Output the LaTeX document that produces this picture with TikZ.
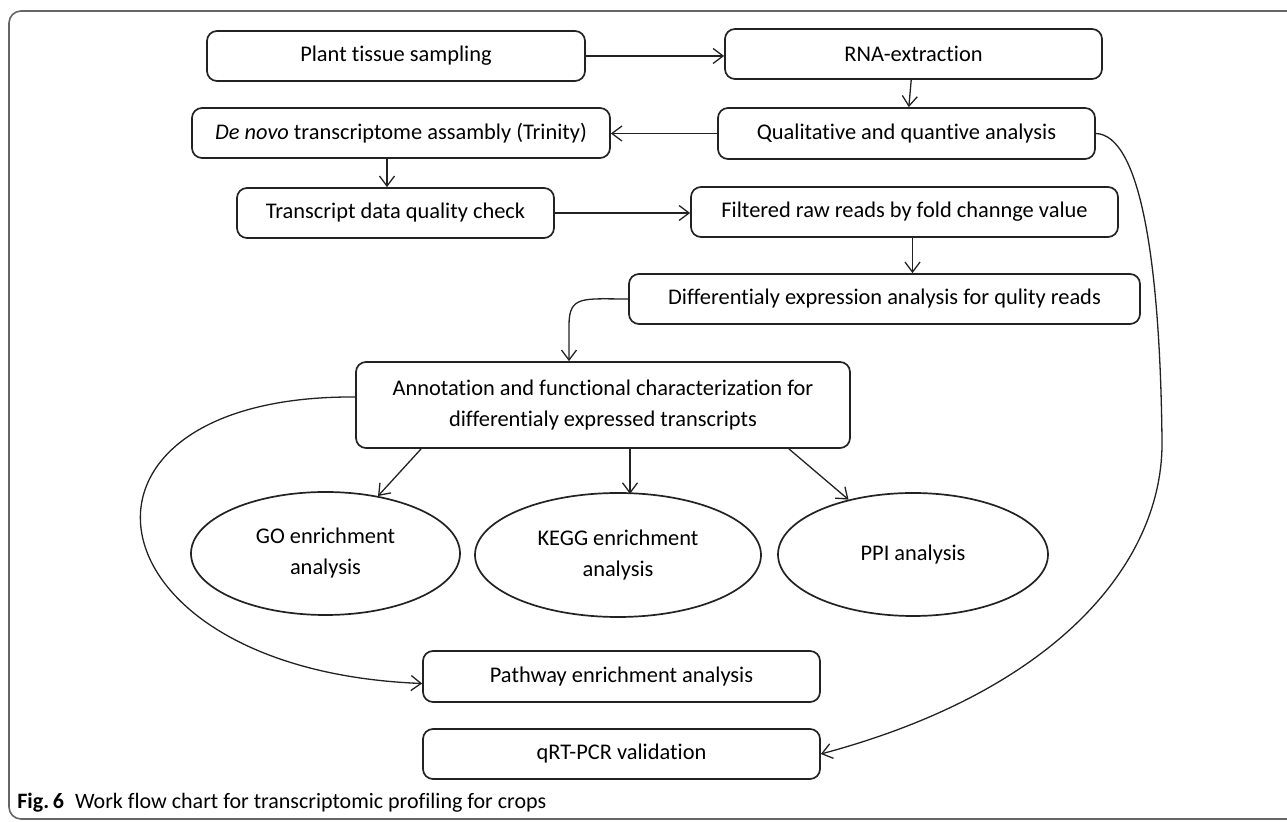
\documentclass[tikz,border=0pt]{standalone}
\usepackage{fontspec}
\setmainfont[Ligatures=NoCommon]{Carlito}
\usepackage{tikz}
\usetikzlibrary{arrows.meta,positioning,calc,shapes.geometric}
\definecolor{ink}{HTML}{222222}
\definecolor{framegray}{HTML}{666666}
\newcommand{\boxfont}{\fontsize{11.2}{15.5}\selectfont}

\begin{document}
\begin{tikzpicture}[x=0.5pt,y=-0.5pt,>={Straight Barb[length=5pt,width=7.5pt]},
  procbox/.style={draw=ink,line width=0.85pt,rounded corners=5pt,inner sep=2pt,align=center,font=\boxfont},
  resultell/.style={draw=ink,line width=0.85pt,ellipse,inner sep=0pt,align=center,font=\boxfont},
  flow/.style={->,ink,line width=0.65pt}]
  \clip (0,0) rectangle (1287,822);
  % outer frame of the figure
  \draw[framegray,line width=0.8pt,rounded corners=6pt] (9,11) rectangle (1320,819);
  % process boxes
  \node[procbox,minimum width=189pt,minimum height=25pt] (plant) at (396,56) {Plant tissue sampling};
  \node[procbox,minimum width=188.5pt,minimum height=25pt] (rna) at (913.5,54) {RNA-extraction};
  \node[procbox,minimum width=209pt,minimum height=25pt] (denovo) at (401,133) {\textit{De novo} transcriptome assambly (Trinity)};
  \node[procbox,minimum width=188.5pt,minimum height=25.5pt] (qual) at (906.5,133.5) {Qualitative and quantive analysis};
  \node[procbox,minimum width=158.5pt,minimum height=25pt] (check) at (395.5,213) {Transcript data quality check};
  \node[procbox,minimum width=213.5pt,minimum height=25pt] (filter) at (904.5,212) {Filtered raw reads by fold channge value};
  \node[procbox,minimum width=255.5pt,minimum height=25pt] (diff) at (884.5,299) {Differentialy expression analysis for qulity reads};
  \node[procbox,minimum width=247pt,minimum height=43pt] (annot) at (603,405) {Annotation and functional characterization for\\differentialy expressed transcripts};
  % enrichment ellipses
  \node[resultell,minimum width=134.5pt,minimum height=61.5pt] (go) at (325.5,553.5) {GO enrichment\\analysis};
  \node[resultell,minimum width=143pt,minimum height=62pt] (kegg) at (618,555) {KEGG enrichment\\analysis};
  \node[resultell,minimum width=135pt,minimum height=61.5pt] (ppi) at (913,554.5) {PPI analysis};
  \node[procbox,minimum width=198.5pt,minimum height=25.5pt] (path) at (621.5,676.5) {Pathway enrichment analysis};
  \node[procbox,minimum width=198.5pt,minimum height=25pt] (qrt) at (621.5,754) {qRT-PCR validation};
  % connectors
  \draw[flow] (plant.east) -- (plant.east -| rna.west);
  \draw[flow] (rna) -- (qual);
  \draw[flow] (qual.west) -- (qual.west -| denovo.east);
  \draw[flow] ([xshift=-7pt]denovo.south) -- ([xshift=-7pt]denovo.south |- check.north);
  \draw[flow] (check.east) -- (check.east -| filter.west);
  \draw[flow] ([xshift=4pt]filter.south) -- ([xshift=4pt]filter.south |- diff.north);
  \draw[flow] (diff.west) .. controls +(-45,0) and +(0,-30) .. ([xshift=-17pt,yshift=18pt]annot.north) -- ([xshift=-17pt]annot.north);
  \draw[flow] ([xshift=33pt]annot.south west) -- (go);
  \draw[flow] ([xshift=13.5pt]annot.south) -- ++(0,45);
  \draw[flow] ([xshift=-31pt]annot.south east) -- (ppi);
  \draw[flow] ([yshift=4pt]annot.west) .. controls (40,395) and (80,670) .. ([yshift=-3.5pt]path.west);
  \draw[flow] (qual.east) .. controls (1140,135) and (1160,260) .. (1162,440) .. controls (1164,560) and (1060,690) .. (qrt.east);
  % caption
  \node[anchor=base west,font=\fontsize{11}{13}\selectfont,inner sep=0pt] (caption) at (17,809) {\textbf{Fig.\,6}\enspace Work flow chart for transcriptomic profiling for crops};
\end{tikzpicture}
\end{document}
